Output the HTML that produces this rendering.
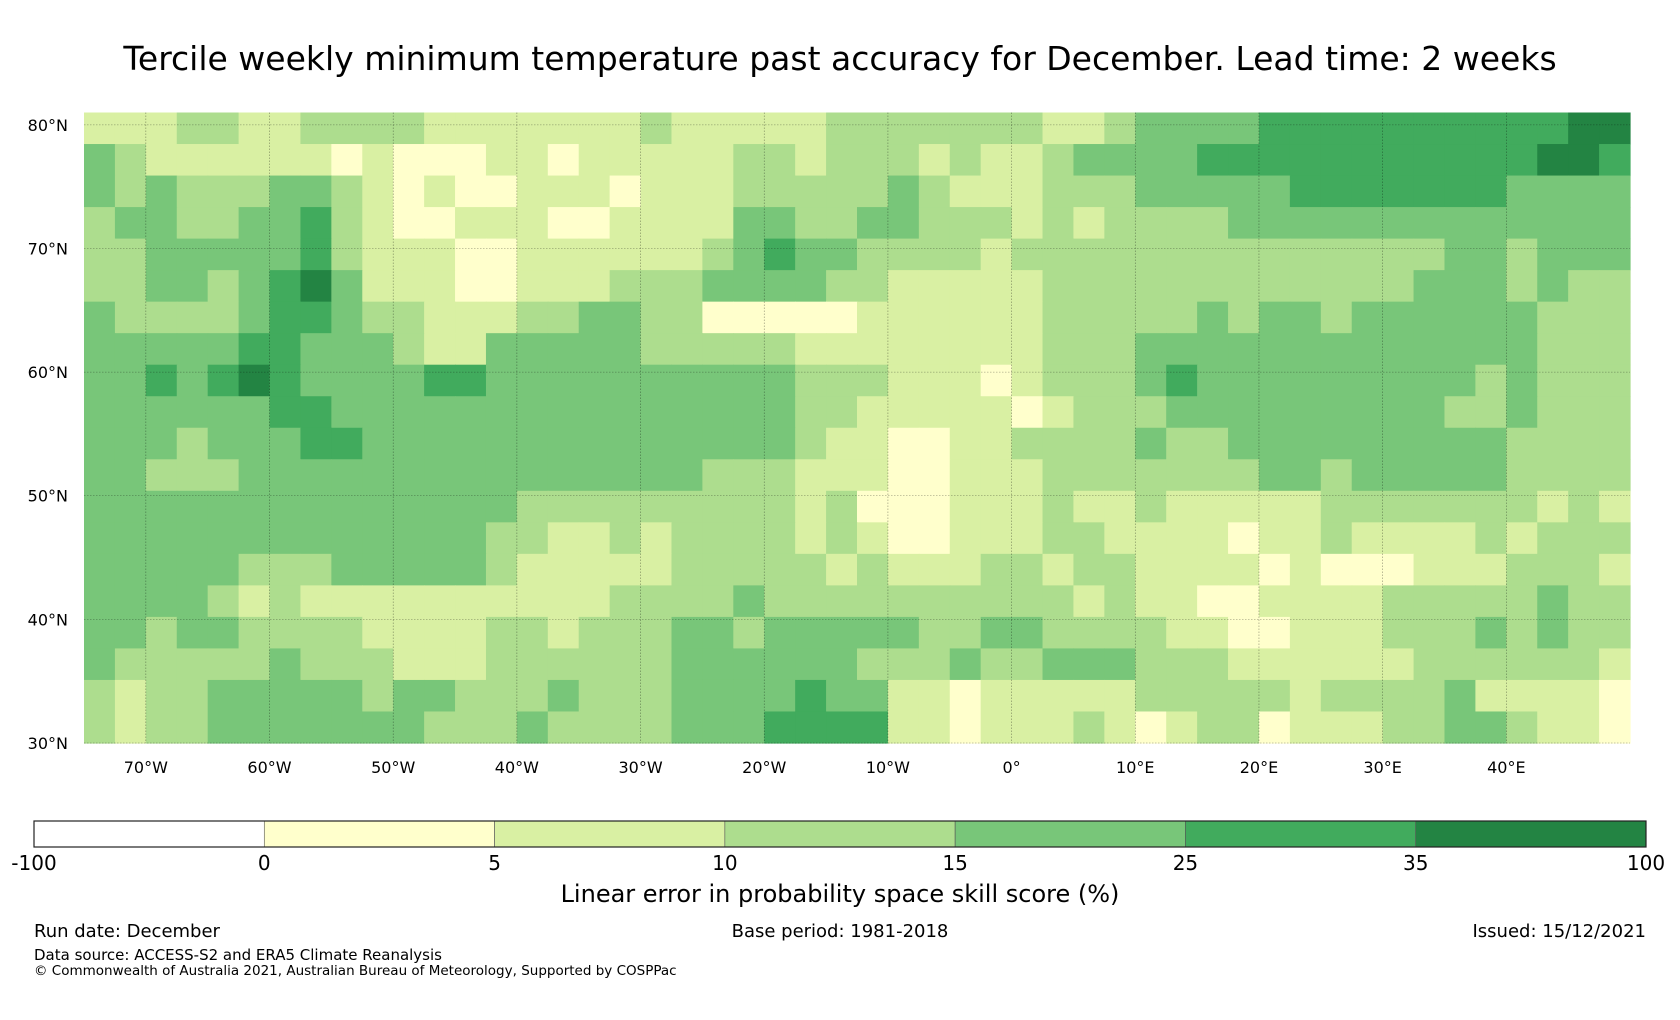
<!DOCTYPE html>
<html><head><meta charset="utf-8"><style>
html,body{margin:0;padding:0;background:#fff;}
body{width:1680px;height:1020px;position:relative;overflow:hidden;font-family:"DejaVu Sans","Liberation Sans",sans-serif;color:#000;}
.t{position:absolute;white-space:nowrap;}
</style></head><body>
<div class="t" style="left:0;width:1680px;top:39px;text-align:center;font-size:33px;">Tercile weekly minimum temperature past accuracy for December. Lead time: 2 weeks</div>
<svg id="chart" width="1680" height="1020" style="position:absolute;left:0;top:0"></svg>
<div class="t" style="left:0;width:1680px;top:880px;text-align:center;font-size:24px;">Linear error in probability space skill score (%)</div>
<div class="t" style="left:34px;top:921px;font-size:18px;">Run date: December</div>
<div class="t" style="left:0;width:1680px;top:921px;text-align:center;font-size:18px;">Base period: 1981-2018</div>
<div class="t" style="right:34px;top:921px;font-size:18px;">Issued: 15/12/2021</div>
<div class="t" style="left:34px;top:946px;font-size:15px;">Data source: ACCESS-S2 and ERA5 Climate Reanalysis</div>
<div class="t" style="left:34px;top:963px;font-size:13.5px;">© Commonwealth of Australia 2021, Australian Bureau of Meteorology, Supported by COSPPac</div>
<script>
// ---- data ----
const lonTicks = [-70,-60,-50,-40,-30,-20,-10,0,10,20,30,40];
const latTicks = [80,70,60,50,40,30];
const colorBounds = [-100,0,5,10,15,25,35,100];
const classColors = ["#ffffff","#ffffcc","#d9f0a3","#addd8e","#78c679","#41ab5d","#238443"];
const lonRange = [-75,50];
const latRange = [30,81];
// skill class per 2.5° lon x 2.55° lat cell, north to south (1..6 = colour class)
const gridRows = [
"22233223333222222232222233333332234444555555555566",
"43222222121112212222233233323223444455555555555665",
"43433344321211222122233333432223334444455555554444",
"34433445321122211222244334433323233334444444444444",
"33444445322211222222345443333233333333333333443444",
"33443456422211222333444433222223333333333334443433",
"43333455433222334433111112222223333343443444444333",
"44444554443224444433333222222223334444444444444333",
"44545654444554444444444333222123334544444444434333",
"44444455444444444444444332222212333444444444334333",
"44434445544444444444444322112233334334444444443333",
"44333444444444444444333222112223333333443444443333",
"44444444444444333333333231112223223222223333333232",
"44444444444443322323333232112223322221223222232333",
"44444333444443222223333323222332332222121112223332",
"44443232222222222333343333333333232211222233333433",
"44344333322223323334434444433443333221122233343433",
"43333343332223333334444443334334443332222223333332",
"32334444434433343334444544221222223333323333422221",
"32334444444333433334445555221222321233122233443221"
];

// ---- geometry ----
const X0=84,X1=1630,Y0=112.5,Y1=743;
const xOf=lon=>X0+(lon-lonRange[0])/(lonRange[1]-lonRange[0])*(X1-X0);
const yOf=lat=>Y0+(latRange[1]-lat)/(latRange[1]-latRange[0])*(Y1-Y0);
const CB_X0=34,CB_X1=1646,CB_Y0=821,CB_Y1=847;
const cbX=i=>CB_X0+i*(CB_X1-CB_X0)/(colorBounds.length-1);

const NS="http://www.w3.org/2000/svg";
const svg=document.getElementById('chart');
function mk(tag,attrs,parent){const e=document.createElementNS(NS,tag);for(const k in attrs)e.setAttribute(k,attrs[k]);(parent||svg).appendChild(e);return e;}

// map cells
const gMap=mk('g',{});


const nRows=gridRows.length, nCols=gridRows[0].length;
const dLat=(latRange[1]-latRange[0])/nRows, dLon=(lonRange[1]-lonRange[0])/nCols;
gridRows.forEach((row,r)=>{
  for(let c=0;c<nCols;c++){
    const v=+row[c];
    const x=xOf(lonRange[0]+c*dLon), x2=xOf(lonRange[0]+(c+1)*dLon);
    const y=yOf(latRange[1]-r*dLat), y2=yOf(latRange[1]-(r+1)*dLat);
    const rc=mk('rect',{x:x.toFixed(2),y:y.toFixed(2),width:(x2-x+0.6).toFixed(2),height:(y2-y+0.6).toFixed(2),fill:classColors[v]},gMap);
    
    
  }
});

// gridlines + labels
lonTicks.forEach(lon=>{
  const x=xOf(lon);
  const l=mk('line',{x1:x,x2:x,y1:Y0,y2:Y1,stroke:'#000','stroke-width':0.6,'stroke-dasharray':'1.5,1.5','stroke-opacity':0.45});
  
  
  const t=mk('text',{x:x,y:773,'text-anchor':'middle','font-size':16,'font-family':'DejaVu Sans, Liberation Sans, sans-serif'});
  t.textContent=lon<0?(-lon)+'°W':lon>0?lon+'°E':'0°';
  
  
});
latTicks.forEach(lat=>{
  const y=yOf(lat);
  const l=mk('line',{x1:X0,x2:X1,y1:y,y2:y,stroke:'#000','stroke-width':0.6,'stroke-dasharray':'1.5,1.5','stroke-opacity':0.45});
  
  
  const t=mk('text',{x:68,y:y+6,'text-anchor':'end','font-size':16,'font-family':'DejaVu Sans, Liberation Sans, sans-serif'});
  t.textContent=lat+'°N';
  
  
});

// colorbar
for(let i=0;i<colorBounds.length-1;i++){
  const r=mk('rect',{x:cbX(i),y:CB_Y0,width:cbX(i+1)-cbX(i),height:CB_Y1-CB_Y0,fill:classColors[i],stroke:'#555','stroke-width':0.6});
  
  
}
const cbo=mk('rect',{x:CB_X0,y:CB_Y0,width:CB_X1-CB_X0,height:CB_Y1-CB_Y0,fill:'none',stroke:'#222','stroke-width':1.2});


colorBounds.forEach((b,i)=>{
  const t=mk('text',{x:cbX(i),y:870,'text-anchor':'middle','font-size':20,'font-family':'DejaVu Sans, Liberation Sans, sans-serif'});
  t.textContent=b;
  
  
});
</script>
</body></html>
